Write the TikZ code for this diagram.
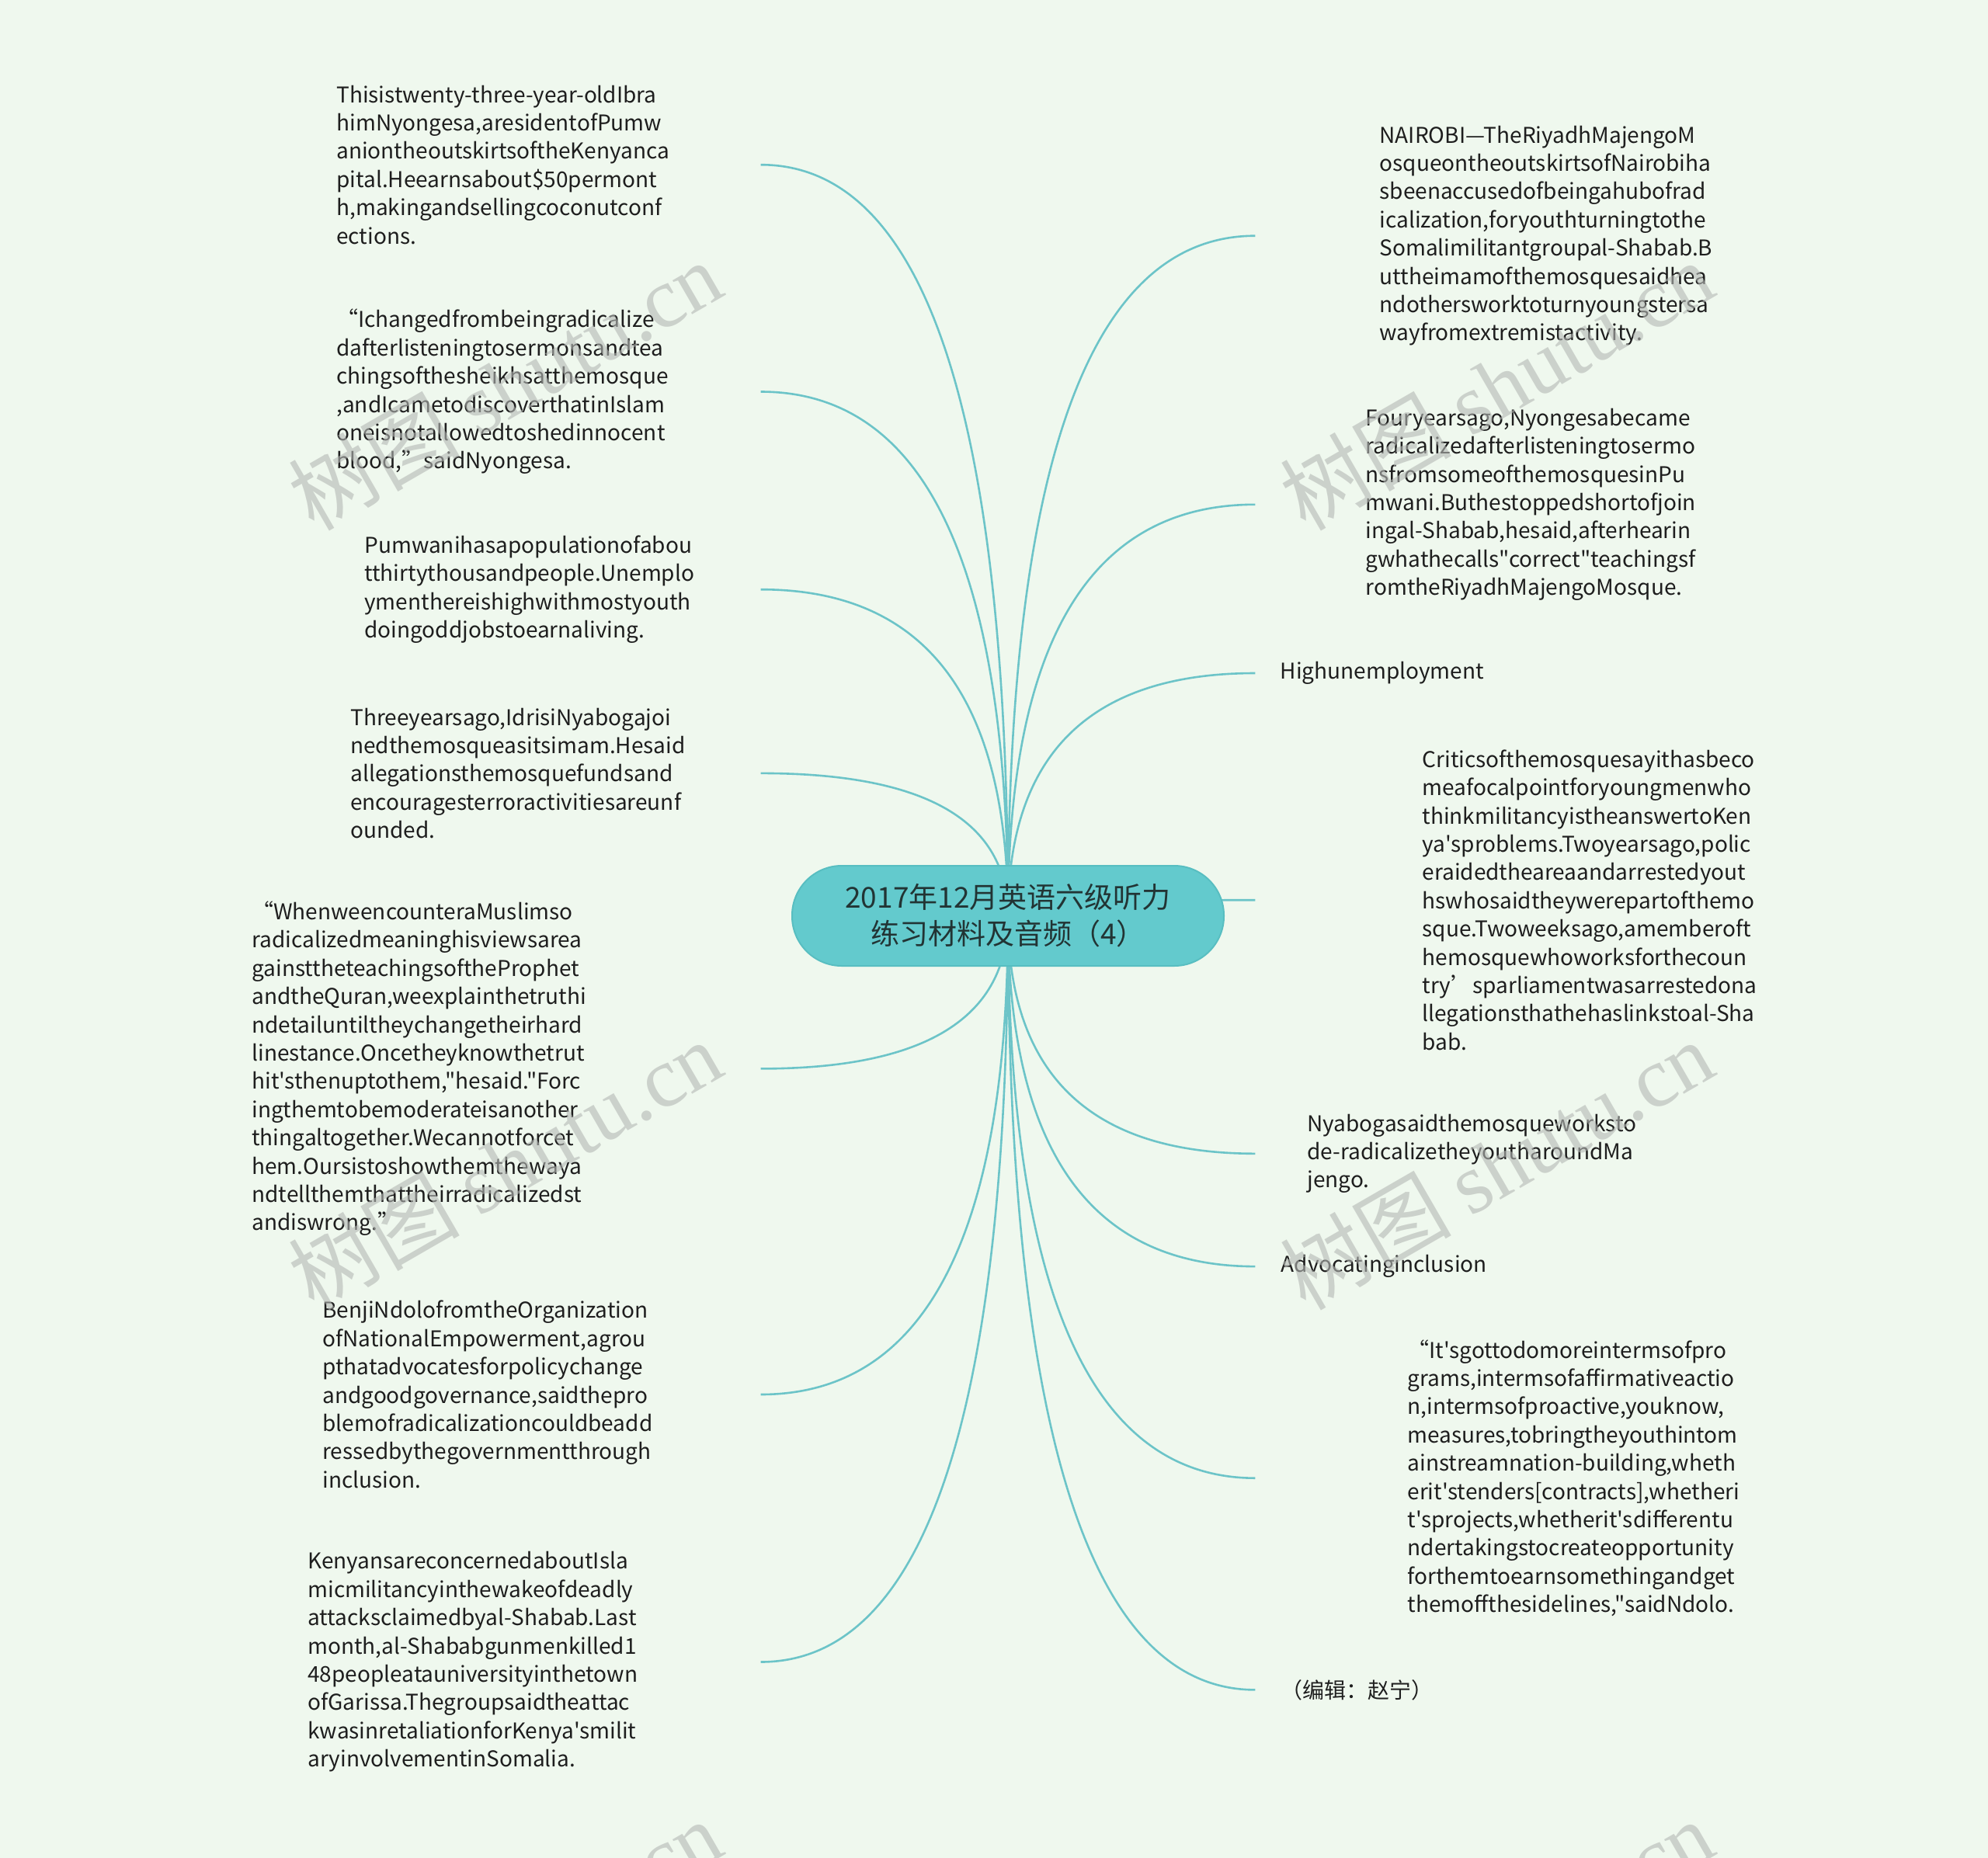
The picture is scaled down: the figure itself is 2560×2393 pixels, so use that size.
\documentclass[tikz,border=0pt]{standalone}
\usepackage{fontspec}
\setmainfont{Noto Sans CJK SC}[Ligatures=TeXOff]
\newfontfamily\wmserif{Liberation Serif}
\usetikzlibrary{calc,backgrounds}
\definecolor{bgc}{HTML}{EFF8EE}
\definecolor{linkc}{HTML}{6CC4C8}
\definecolor{pillc}{HTML}{63CACD}
\definecolor{pillb}{HTML}{58BEC1}
\definecolor{txtc}{HTML}{1E1E1E}
\definecolor{titlec}{HTML}{223434}
\definecolor{wmc}{HTML}{B4B8B4}
\hyphenpenalty=10000
\exhyphenpenalty=10000
\tikzset{
  leaf/.style={inner sep=0pt, align=left, text=txtc, font=\fontsize{28}{36.4}\selectfont},
  leftleaf/.style={leaf, anchor=east, text width=#1},
  rightleaf/.style={leaf, anchor=west, inner xsep=#1},
  link/.style={draw=linkc, line width=2.6pt},
  rootnode/.style={fill=pillc, draw=pillb, line width=2pt, rounded corners=64pt,
    minimum width=556pt, minimum height=129pt, align=center, text=titlec,
    font=\fontsize{37}{47}\selectfont},
  wmark/.style={text=wmc, opacity=0.6, rotate=30, font=\fontsize{110}{110}\selectfont}
}
\newcommand{\lnk}[1]{\draw[link] (c.center) .. controls ($(c.center)!0.667!(c.center |- #1)$) and ($(#1)!0.667!(c.center |- #1)$) .. (#1);}
\begin{document}
\begin{tikzpicture}[x=1pt,y=-1pt]
\useasboundingbox (0,0) rectangle (2560,2393);
\clip (0,0) rectangle (2560,2393);

\node[rootnode] (c) at (1298,1179.5) {2017年12月英语六级听力\\练习材料及音频（4）};

% left leaves
\node[leftleaf=546pt] (L1) at (979.6,212.2) {Thisistwenty-three-year-oldIbra\\himNyongesa,aresidentofPumw\\aniontheoutskirtsoftheKenyanca\\pital.Heearnsabout\$50permont\\h,makingandsellingcoconutconf\\ections.};
\node[leftleaf=546pt] (L2) at (979.6,504.5) {“Ichangedfrombeingradicalize\\dafterlisteningtosermonsandtea\\chingsofthesheikhsatthemosque\\,andIcametodiscoverthatinIslam\\oneisnotallowedtoshedinnocent\\blood,”saidNyongesa.};
\node[leftleaf=510pt] (L3) at (979.6,759.2) {Pumwanihasapopulationofabou\\tthirtythousandpeople.Unemplo\\ymenthereishighwithmostyouth\\doingoddjobstoearnaliving.};
\node[leftleaf=528pt] (L4) at (979.6,995.9) {Threeyearsago,IdrisiNyabogajoi\\nedthemosqueasitsimam.Hesaid\\allegationsthemosquefundsand\\encouragesterroractivitiesareunf\\ounded.};
\node[leftleaf=655pt] (L5) at (979.6,1376.4) {“WhenweencounteraMuslimso\\radicalizedmeaninghisviewsarea\\gainsttheteachingsoftheProphet\\andtheQuran,weexplainthetruthi\\ndetailuntiltheychangetheirhard\\linestance.Oncetheyknowthetrut\\hit'sthenuptothem,"hesaid."Forc\\ingthemtobemoderateisanother\\thingaltogether.Wecannotforcet\\hem.Oursistoshowthemthewaya\\ndtellthemthattheirradicalizedst\\andiswrong.”};
\node[leftleaf=564pt] (L6) at (979.6,1796) {BenjiNdolofromtheOrganization\\ofNationalEmpowerment,agrou\\pthatadvocatesforpolicychange\\andgoodgovernance,saidthepro\\blemofradicalizationcouldbeadd\\ressedbythegovernmentthrough\\inclusion.};
\node[leftleaf=583pt] (L7) at (979.6,2140.5) {KenyansareconcernedaboutIsla\\micmilitancyinthewakeofdeadly\\attacksclaimedbyal-Shabab.Last\\month,al-Shababgunmenkilled1\\48peopleatauniversityinthetown\\ofGarissa.Thegroupsaidtheattac\\kwasinretaliationforKenya'smilit\\aryinvolvementinSomalia.};

% right leaves
\node[rightleaf=160pt] (R1) at (1616.4,303.7) {NAIROBI—TheRiyadhMajengoM\\osqueontheoutskirtsofNairobiha\\sbeenaccusedofbeingahubofrad\\icalization,foryouthturningtothe\\Somalimilitantgroupal-Shabab.B\\uttheimamofthemosquesaidhea\\ndothersworktoturnyoungstersa\\wayfromextremistactivity.};
\node[rightleaf=142pt] (R2) at (1616.4,649.8) {Fouryearsago,Nyongesabecame\\radicalizedafterlisteningtosermo\\nsfromsomeofthemosquesinPu\\mwani.Buthestoppedshortofjoin\\ingal-Shabab,hesaid,afterhearin\\gwhathecalls"correct"teachingsf\\romtheRiyadhMajengoMosque.};
\node[rightleaf=32pt] (R3) at (1616.4,867) {Highunemployment};
\node[rightleaf=215pt] (R4) at (1616.4,1159.2) {Criticsofthemosquesayithasbeco\\meafocalpointforyoungmenwho\\thinkmilitancyistheanswertoKen\\ya'sproblems.Twoyearsago,polic\\eraidedtheareaandarrestedyout\\hswhosaidtheywerepartofthemo\\sque.Twoweeksago,amemberoft\\hemosquewhoworksforthecoun\\try’sparliamentwasarrestedona\\llegationsthathehaslinkstoal-Sha\\bab.};
\node[rightleaf=67pt] (R5) at (1616.4,1485.8) {Nyabogasaidthemosqueworksto\\de-radicalizetheyoutharoundMa\\jengo.};
\node[rightleaf=33pt] (R6) at (1616.4,1631.1) {Advocatinginclusion};
\node[rightleaf=196pt] (R7) at (1616.4,1903.7) {“It'sgottodomoreintermsofpro\\grams,intermsofaffirmativeactio\\n,intermsofproactive,youknow,\\measures,tobringtheyouthintom\\ainstreamnation-building,wheth\\erit'stenders[contracts],whetheri\\t'sprojects,whetherit'sdifferentu\\ndertakingstocreateopportunity\\forthemtoearnsomethingandget\\themoffthesidelines,"saidNdolo.};
\node[rightleaf=33pt] (R8) at (1616.4,2176.4) {（编辑：赵宁）};

\begin{scope}[on background layer]
\fill[bgc] (0,0) rectangle (2560,2393);
\foreach \n in {L1,L2,L3,L4,L5,L6,L7} {\lnk{\n.east}}
\foreach \n in {R1,R2,R3,R4,R5,R6,R7,R8} {\lnk{\n.west}}
\end{scope}

% watermarks
\node[wmark] (w1) at (650,496) {树图 {\wmserif shutu.cn}};
\node[wmark] (w2) at (1927,496) {树图 {\wmserif shutu.cn}};
\node[wmark] (w3) at (650,1500) {树图 {\wmserif shutu.cn}};
\node[wmark] (w4) at (1927,1500) {树图 {\wmserif shutu.cn}};
\node[wmark] (w5) at (650,2504) {树图 {\wmserif shutu.cn}};
\node[wmark] (w6) at (1927,2504) {树图 {\wmserif shutu.cn}};
\end{tikzpicture}
\end{document}
